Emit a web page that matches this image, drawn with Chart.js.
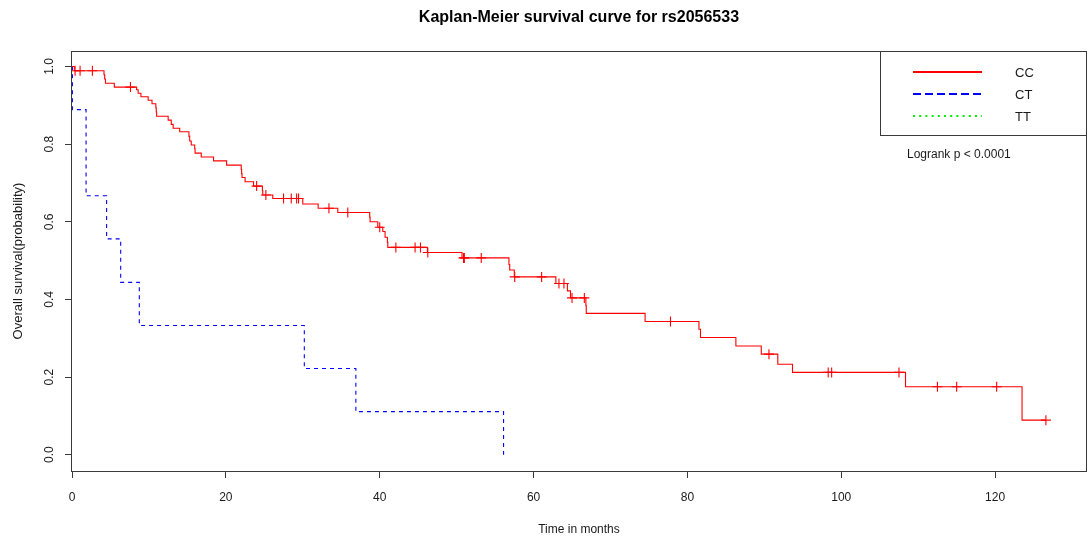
<!DOCTYPE html>
<html>
<head>
<meta charset="utf-8">
<script src="https://cdn.jsdelivr.net/npm/chart.js@4.4.1/dist/chart.umd.min.js"></script>
<style>
  html, body { margin: 0; padding: 0; background: #ffffff; }
  #wrap { width: 1092px; height: 545px; }
</style>
</head>
<body>
<div id="wrap"><canvas id="km" width="1092" height="545"></canvas></div>
<script>
// Genotype groups
const groups = ['CC', 'CT', 'TT'];

// CC: event times (months) and Kaplan-Meier survival after each event
const ccTimes = [0.3, 4.16, 4.25, 4.35, 5.5, 8.4, 8.6, 8.96, 9.9, 10.4, 10.9, 10.95, 11.0,
  12.5, 12.9, 13.15, 14.0, 15.2, 15.3, 15.5, 15.95, 16.0, 16.8, 18.4, 20.1, 22.0, 22.05,
  22.1, 22.5, 23.6, 24.75, 24.8, 26.1, 30.0, 32.0, 34.55, 38.7, 38.75, 39.75, 40.4, 40.7,
  41.0, 41.05, 46.2, 50.7, 56.8, 56.9, 57.5, 62.9, 64.4, 64.8, 66.8, 66.85, 74.5, 81.5,
  81.7, 86.3, 89.6, 91.75, 93.66, 108.35, 123.5];
const ccSurv = [0.989, 0.979, 0.968, 0.957, 0.947, 0.940, 0.931, 0.922, 0.913, 0.904, 0.894, 0.883, 0.872,
  0.862, 0.851, 0.841, 0.832, 0.820, 0.808, 0.798, 0.788, 0.777, 0.767, 0.757, 0.746, 0.735, 0.724,
  0.714, 0.703, 0.692, 0.680, 0.669, 0.660, 0.646, 0.635, 0.624, 0.612, 0.600, 0.586, 0.575, 0.560,
  0.547, 0.534, 0.521, 0.507, 0.490, 0.476, 0.458, 0.441, 0.422, 0.404, 0.384, 0.364, 0.343, 0.323,
  0.302, 0.280, 0.259, 0.233, 0.212, 0.175, 0.089];
// CC: censoring times (months)
const ccCensored = [0.4, 1.05, 2.65, 7.6, 24.0, 25.2, 27.5, 28.5, 29.2, 29.45, 33.4, 35.85, 40.0,
  42.1, 44.6, 45.3, 46.25, 50.9, 51.0, 53.2, 57.55, 61.05, 63.3, 63.95, 65.0, 66.6, 77.8, 90.6,
  98.3, 98.75, 107.5, 112.5, 115.0, 120.2, 126.6];

// CT: event times (months) and survival after each event
const ctTimes = [0.05, 1.83, 4.5, 6.33, 8.75, 30.2, 36.9, 56.1];
const ctSurv = [0.889, 0.667, 0.556, 0.444, 0.333, 0.222, 0.111, 0.0];

// Axis tick labels
const xTicks = [0, 20, 40, 60, 80, 100, 120];
const yTicks = [0.0, 0.2, 0.4, 0.6, 0.8, 1.0];

const titleText = 'Kaplan-Meier survival curve for rs2056533';
const pValueText = 'Logrank p < 0.0001';

const FONT = "'Liberation Sans', Arial, sans-serif";
Chart.defaults.font.family = FONT;
Chart.defaults.color = '#1a1a1a';

// Step-function points: start at S(0)=1, then one point per event
function stepPoints(times, surv, lastTime) {
  const pts = [{ x: 0, y: 1 }];
  times.forEach((t, i) => pts.push({ x: t, y: surv[i] }));
  if (lastTime !== undefined && lastTime > times[times.length - 1]) {
    pts.push({ x: lastTime, y: surv[surv.length - 1] });
  }
  return pts;
}
function survivalAt(times, surv, t) {
  let s = 1;
  for (let i = 0; i < times.length; i++) { if (times[i] <= t) s = surv[i]; }
  return s;
}

const ccLast = Math.max(...ccCensored);
const ccLine = stepPoints(ccTimes, ccSurv, ccLast);
const ctLine = stepPoints(ctTimes, ctSurv);
const ccMarks = ccCensored.map(t => ({ x: t, y: survivalAt(ccTimes, ccSurv, t) }));

const styles = {
  CC: { color: '#ff0000', dash: [], legendDash: [] },
  CT: { color: '#0000ff', dash: [4, 4], legendDash: [8, 4] },
  TT: { color: '#00ee00', dash: [1, 3], legendDash: [2, 4.2] }
};

// Frame, title, legend box and p-value text
const decorations = {
  id: 'decorations',
  afterDraw(chart) {
    const { ctx, chartArea: a } = chart;
    ctx.save();
    // plot frame
    ctx.strokeStyle = '#3a3a3a';
    ctx.lineWidth = 1;
    ctx.setLineDash([]);
    ctx.strokeRect(Math.round(a.left) - 0.5, Math.round(a.top) + 0.5,
      Math.round(a.right - a.left) + 1, Math.round(a.bottom - a.top));
    // title
    ctx.fillStyle = '#000';
    ctx.font = 'bold 16px ' + FONT;
    ctx.textAlign = 'center';
    ctx.textBaseline = 'middle';
    ctx.fillText(titleText, (a.left + a.right) / 2, 18);
    // legend box
    const bx = 880.5, by = Math.round(a.top) + 0.5, bw = Math.round(a.right) - 880, bh = 84;
    ctx.strokeStyle = '#3a3a3a';
    ctx.strokeRect(bx, by, bw, bh);
    ctx.font = '13px ' + FONT;
    ctx.textAlign = 'left';
    groups.forEach((g, i) => {
      const y = 72 + i * 22;
      ctx.strokeStyle = styles[g].color;
      ctx.lineWidth = 2;
      ctx.setLineDash(styles[g].legendDash);
      ctx.beginPath();
      ctx.moveTo(913, y);
      ctx.lineTo(982, y);
      ctx.stroke();
      ctx.setLineDash([]);
      ctx.fillStyle = '#1a1a1a';
      ctx.fillText(g, 1015, y + 1);
    });
    ctx.font = '12px ' + FONT;
    ctx.fillText(pValueText, 907, 155);
    ctx.restore();
  }
};

new Chart(document.getElementById('km'), {
  type: 'scatter',
  data: {
    datasets: [
      {
        label: 'CC',
        data: ccLine,
        showLine: true,
        stepped: 'before',
        borderColor: styles.CC.color,
        borderWidth: 1.1,
        pointRadius: 0,
        fill: false
      },
      {
        label: 'CC censored',
        data: ccMarks,
        showLine: false,
        pointStyle: 'cross',
        pointRadius: 5,
        borderColor: styles.CC.color,
        pointBorderWidth: 1.1,
        backgroundColor: styles.CC.color
      },
      {
        label: 'CT',
        data: ctLine,
        showLine: true,
        stepped: 'before',
        borderColor: styles.CT.color,
        borderDash: styles.CT.dash,
        borderWidth: 1.1,
        pointRadius: 0,
        fill: false
      },
      {
        label: 'TT',
        data: [],
        showLine: true,
        borderColor: styles.TT.color,
        borderDash: styles.TT.dash,
        borderWidth: 1.1,
        pointRadius: 0
      }
    ]
  },
  options: {
    responsive: false,
    animation: false,
    devicePixelRatio: 1,
    layout: { padding: { top: 51, right: 4, left: 0, bottom: 0 } },
    plugins: {
      legend: { display: false },
      tooltip: { enabled: false },
      title: { display: false }
    },
    scales: {
      x: {
        type: 'linear',
        min: 0,
        max: 131.8,
        afterBuildTicks: s => { s.ticks = xTicks.map(v => ({ value: v })); },
        afterFit: s => { s.height = 74; },
        border: { display: false },
        grid: { drawOnChartArea: false, drawTicks: true, tickLength: 7, color: '#3a3a3a' },
        ticks: {
          includeBounds: false,
          padding: 12,
          font: { size: 12 },
          color: '#1a1a1a',
          maxRotation: 0,
          callback: v => String(v)
        },
        title: {
          display: true,
          text: 'Time in months',
          font: { size: 12 },
          color: '#1a1a1a',
          padding: { top: 0, bottom: 8 }
        }
      },
      y: {
        type: 'linear',
        min: -0.042,
        max: 1.04,
        afterBuildTicks: s => { s.ticks = yTicks.map(v => ({ value: v })); },
        afterFit: s => { s.width = 72; },
        border: { display: false },
        grid: { drawOnChartArea: false, drawTicks: true, tickLength: 7, color: '#3a3a3a' },
        ticks: {
          includeBounds: false,
          padding: 7,
          crossAlign: 'center',
          minRotation: 90,
          maxRotation: 90,
          font: { size: 12 },
          color: '#1a1a1a',
          callback: v => Number(v).toFixed(1)
        },
        title: {
          display: true,
          text: 'Overall survival(probability)',
          font: { size: 13 },
          color: '#1a1a1a',
          padding: { top: 11, bottom: 0 }
        }
      }
    }
  },
  plugins: [decorations]
});
</script>
</body>
</html>
